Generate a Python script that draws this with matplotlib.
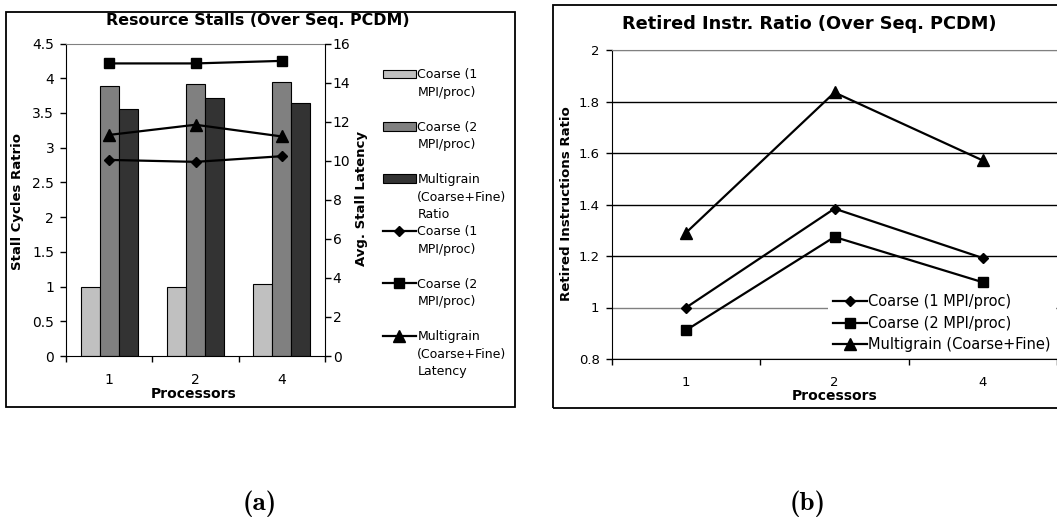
import matplotlib
matplotlib.use('Agg')
import matplotlib.pyplot as plt
from matplotlib.lines import Line2D
from matplotlib.patches import Rectangle, Patch
from matplotlib.ticker import FuncFormatter
import numpy as np

W, H = 1057, 518

processors = ['1', '2', '4']

# (a) Resource stalls: stall cycle ratios (bars, left axis)
ratio_coarse1 = [1.00, 1.00, 1.03]
ratio_coarse2 = [3.89, 3.91, 3.94]
ratio_multi = [3.56, 3.72, 3.64]
# (a) average stall latency (lines, right axis)
lat_coarse1 = [10.04, 9.94, 10.23]
lat_coarse2 = [14.98, 14.98, 15.11]
lat_multi = [11.32, 11.84, 11.24]

# (b) Retired instructions ratio
ret_coarse1 = [1.00, 1.384, 1.192]
ret_coarse2 = [0.912, 1.274, 1.098]
ret_multi = [1.291, 1.835, 1.571]

bar_labels = ['Coarse (1\nMPI/proc)', 'Coarse (2\nMPI/proc)',
              'Multigrain\n(Coarse+Fine)\nRatio']
lat_labels = ['Coarse (1\nMPI/proc)', 'Coarse (2\nMPI/proc)',
              'Multigrain\n(Coarse+Fine)\nLatency']
ret_labels = ['Coarse (1 MPI/proc)', 'Coarse (2 MPI/proc)',
              'Multigrain (Coarse+Fine)']

bar_colors = ['#c0c0c0', '#808080', '#333333']
markers = ['D', 's', '^']
msizes = [5.5, 7.5, 8]


def fx(x):
    return x / W


def fy(y):
    return 1 - y / H


fig = plt.figure(figsize=(W / 100, H / 100), dpi=100)
fig.patch.set_facecolor('white')

fmt = FuncFormatter(lambda v, p: '%g' % round(v, 2))

# ---------------- (a) ----------------
axA = fig.add_axes([fx(66), fy(356), (325 - 66) / W, (356 - 43.5) / H])
x = np.arange(len(processors))
w = 0.22
for i, (vals, c) in enumerate(zip([ratio_coarse1, ratio_coarse2, ratio_multi], bar_colors)):
    axA.bar(x + (i - 1) * w, vals, w, color=c, edgecolor='black', linewidth=0.8)
axA.set_xlim(-0.5, 2.5)
axA.set_ylim(0, 4.5)
axA.set_yticks(np.arange(0, 4.51, 0.5))
axA.yaxis.set_major_formatter(fmt)
axA.set_xticks([-0.5, 0.5, 1.5, 2.5])
axA.set_xticklabels([])
axA.set_xticks(x, minor=True)
axA.set_xticklabels(processors, minor=True)
axA.tick_params(axis='x', which='major', direction='out', length=4, width=1)
axA.tick_params(axis='x', which='minor', length=0, pad=12, labelsize=10)
axA.tick_params(axis='y', direction='out', length=4, width=1, pad=4.5, labelsize=10)
axA.spines['top'].set_color('#808080')
axA.spines['right'].set_visible(False)

axA2 = axA.twinx()
for vals, m, ms in zip([lat_coarse1, lat_coarse2, lat_multi], markers, msizes):
    axA2.plot(x, vals, color='black', lw=1.6, marker=m, ms=ms)
axA2.set_ylim(0, 16)
axA2.set_yticks(np.arange(0, 16.1, 2))
axA2.yaxis.set_major_formatter(fmt)
axA2.tick_params(axis='y', direction='out', length=4, width=1, pad=1.5, labelsize=10)
for s in ['top', 'left', 'bottom']:
    axA2.spines[s].set_visible(False)

axA.set_ylabel('Stall Cycles Ratrio', fontsize=9.5, fontweight='bold', va='center', ha='center')
axA.yaxis.set_label_coords(fx(18), fy(202), transform=fig.transFigure)
axA2.set_ylabel('Avg. Stall Latency', fontsize=9.5, fontweight='bold', va='center', ha='center')
axA2.yaxis.set_label_coords(fx(362), fy(198), transform=fig.transFigure)
axA.set_xlabel('Processors', fontsize=10, fontweight='bold', va='center', ha='center')
axA.xaxis.set_label_coords(fx(194), fy(394.5), transform=fig.transFigure)

fig.text(fx(257.5), fy(21), 'Resource Stalls (Over Seq. PCDM)', fontsize=11.4,
         fontweight='bold', ha='center', va='center')

# legend (a): each entry occupies three rows, text top-aligned
handles, labels = [], []
blank = Line2D([], [], linestyle='none')
for c, lab in zip(bar_colors, bar_labels):
    rows = lab.split('\n') + [' '] * 3
    handles += [Patch(facecolor=c, edgecolor='black', linewidth=0.8), blank, blank]
    labels += rows[:3]
for m, ms, lab in zip(markers, msizes, lat_labels):
    rows = lab.split('\n') + [' '] * 3
    handles += [Line2D([], [], color='black', lw=1.6, marker=m, ms=ms), blank, blank]
    labels += rows[:3]
fig.legend(handles, labels, loc='upper left', bbox_to_anchor=(fx(383), fy(68.4)),
           bbox_transform=fig.transFigure, frameon=False, fontsize=9,
           labelspacing=0.356, handlelength=2.6, handletextpad=0.15,
           borderpad=0, borderaxespad=0)

# ---------------- (b) ----------------
axB = fig.add_axes([fx(612), fy(359), (1057 - 612) / W, (359 - 50) / H])
axB.set_axisbelow(True)
for vals, m, ms, lab in zip([ret_coarse1, ret_coarse2, ret_multi], markers, msizes, ret_labels):
    axB.plot(x, vals, color='black', lw=1.6, marker=m, ms=ms, label=lab)
axB.set_xlim(-0.5, 2.5)
axB.set_ylim(0.8, 2.0)
axB.set_yticks(np.arange(0.8, 2.01, 0.2))
axB.yaxis.set_major_formatter(fmt)
axB.yaxis.grid(True, color='black', lw=1)
gl = axB.yaxis.get_gridlines()
gl[1].set_color('#808080')
gl[-1].set_color('#808080')
axB.set_xticks([-0.5, 0.5, 1.5, 2.5])
axB.set_xticklabels([])
axB.set_xticks(x, minor=True)
axB.set_xticklabels(processors, minor=True)
axB.tick_params(axis='x', which='major', direction='out', length=4, width=1)
axB.tick_params(axis='x', which='minor', length=0, pad=12.5, labelsize=9.5)
axB.tick_params(axis='y', direction='out', length=4, width=1, pad=5, labelsize=9.5)
axB.spines['top'].set_color('#808080')
axB.spines['right'].set_visible(False)

axB.set_ylabel('Retired Instructions Ratio', fontsize=9.6, fontweight='bold', va='center', ha='center')
axB.yaxis.set_label_coords(fx(567), fy(204), transform=fig.transFigure)
axB.set_xlabel('Processors', fontsize=10, fontweight='bold', va='center', ha='center')
axB.xaxis.set_label_coords(fx(834.5), fy(396), transform=fig.transFigure)

fig.text(fx(809), fy(24), 'Retired Instr. Ratio (Over Seq. PCDM)', fontsize=12.8,
         fontweight='bold', ha='center', va='center')

legB = axB.legend(loc='upper left', bbox_to_anchor=(fx(828), fy(289)),
                  bbox_transform=fig.transFigure, fontsize=10.5, labelspacing=0.45,
                  handlelength=2.33, handletextpad=0.07, borderpad=0.35,
                  borderaxespad=0, frameon=True, facecolor='white', edgecolor='none',
                  framealpha=1, fancybox=False)
legB.set_zorder(1)

# chart borders
fig.add_artist(Rectangle((fx(6), fy(407)), (515 - 6) / W, (407 - 12) / H,
                         transform=fig.transFigure, fill=False, lw=1.3, ec='black'))
fig.add_artist(Rectangle((fx(553), fy(408)), (1064 - 553) / W, (408 - 5) / H,
                         transform=fig.transFigure, fill=False, lw=1.3, ec='black'))

# captions
fig.text(fx(260), fy(504), '(a)', fontfamily='cmb10', fontsize=19.5, ha='center', va='center')
fig.text(fx(808), fy(504), '(b)', fontfamily='cmb10', fontsize=19.5, ha='center', va='center')

fig.savefig('out.png', dpi=100, facecolor='white')
